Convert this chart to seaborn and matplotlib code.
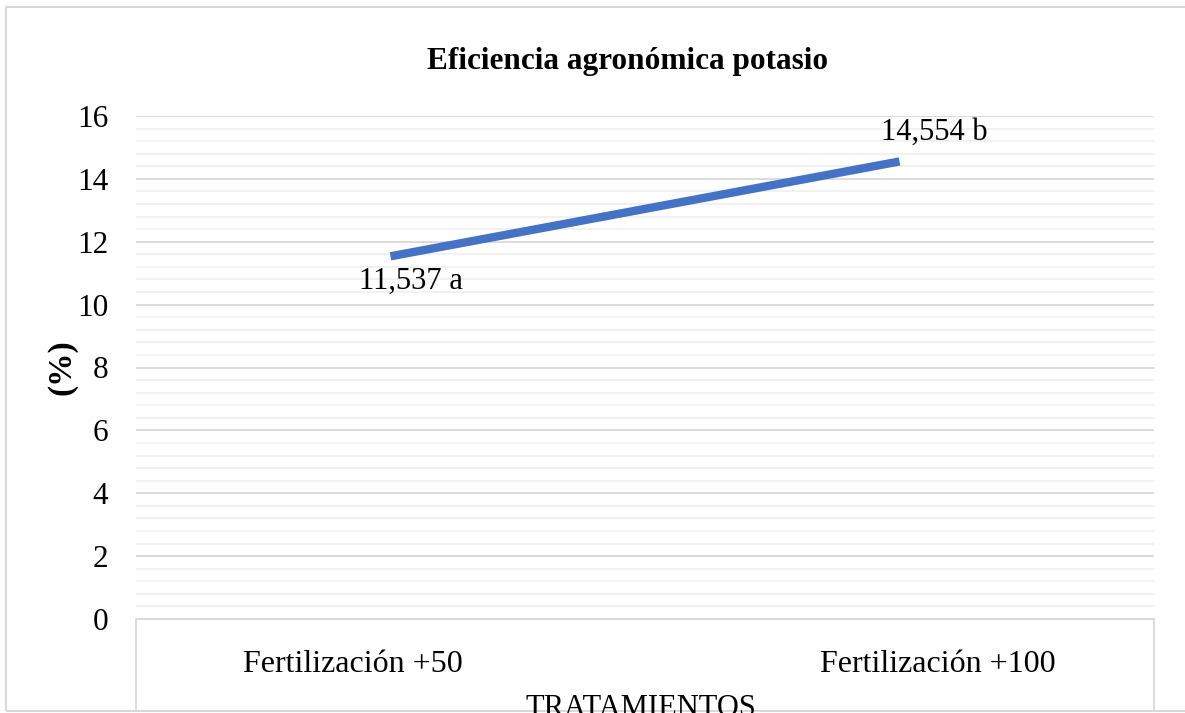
import matplotlib
matplotlib.use("Agg")
import matplotlib.pyplot as plt
import seaborn as sns
import pandas as pd
from matplotlib.ticker import MultipleLocator
from matplotlib.lines import Line2D
from matplotlib.patches import Rectangle
from matplotlib.transforms import ScaledTranslation

# data
tratamientos = ["Fertilización +50", "Fertilización +100"]
eficiencia = [11.537, 14.554]
etiquetas = ["11,537 a", "14,554 b"]

df = pd.DataFrame({"Tratamiento": tratamientos, "Eficiencia": eficiencia})

sns.set_theme(style="white")
plt.rcParams["font.family"] = ["Liberation Serif", "DejaVu Serif"]
plt.rcParams["text.color"] = "black"
plt.rcParams["axes.labelcolor"] = "black"
plt.rcParams["xtick.color"] = "black"
plt.rcParams["ytick.color"] = "black"

W, H = 1185, 713
fig = plt.figure(figsize=(W / 100, H / 100), dpi=100)
L, R, T, B = 136, 1154, 116, 619
ax = fig.add_axes([L / W, 1 - B / H, (R - L) / W, (B - T) / H])

sns.lineplot(data=df, x="Tratamiento", y="Eficiencia", ax=ax,
             color="#4472C4", linewidth=6, solid_capstyle="butt")

ax.set_ylim(0, 16)
ax.set_xlim(-0.5, 1.5)
ax.yaxis.set_major_locator(MultipleLocator(2))
ax.yaxis.set_minor_locator(MultipleLocator(0.4))
ax.grid(which="major", axis="y", color="#D9D9D9", linewidth=1.3)
ax.grid(which="minor", axis="y", color="#F0F0F0", linewidth=1.3)
ax.set_axisbelow(True)
for s in ax.spines.values():
    s.set_visible(False)
ax.tick_params(axis="both", which="both", length=0)
ax.tick_params(axis="y", labelsize=22.5, pad=20)
ax.tick_params(axis="x", labelsize=23, pad=22)
ax.set_xlabel("")
ax.set_ylabel("(%)", fontsize=24, fontweight="bold", labelpad=0)
ax.yaxis.set_label_coords(-0.057, 0.5)

# category labels sit a bit off the category centres, as in the reference
for lab, dx in zip(ax.get_xticklabels(), [-38, 38]):
    lab.set_transform(lab.get_transform() + ScaledTranslation(dx / 100, 0, fig.dpi_scale_trans))

# data labels
ax.annotate(etiquetas[0], (0, eficiencia[0]), xytext=(15, -18),
            textcoords="offset points", ha="center", va="center", fontsize=22)
ax.annotate(etiquetas[1], (1, eficiencia[1]), xytext=(25, 21),
            textcoords="offset points", ha="center", va="center", fontsize=22)

# category axis box below the plot area
grey = "#D9D9D9"
fig.add_artist(Line2D([L / W, R / W], [1 - B / H] * 2, color=grey, lw=1.3))
fig.add_artist(Line2D([L / W] * 2, [1 - B / H, 1 - 711 / H], color=grey, lw=1.3))
fig.add_artist(Line2D([R / W] * 2, [1 - B / H, 1 - 711 / H], color=grey, lw=1.3))

# chart border (right edge lies outside the picture)
fig.add_artist(Rectangle((6 / W, 1 - 711 / H), (1200 - 6) / W, (711 - 7) / H,
                         fill=False, edgecolor=grey, lw=1.5))

fig.text(628 / W, 1 - 61 / H, "Eficiencia agronómica potasio",
         ha="center", va="center", fontsize=22.5, fontweight="bold")
fig.text(641 / W, 1 - 708 / H, "TRATAMIENTOS", ha="center", va="center",
         fontsize=22)

fig.savefig("out.png", dpi=100)
